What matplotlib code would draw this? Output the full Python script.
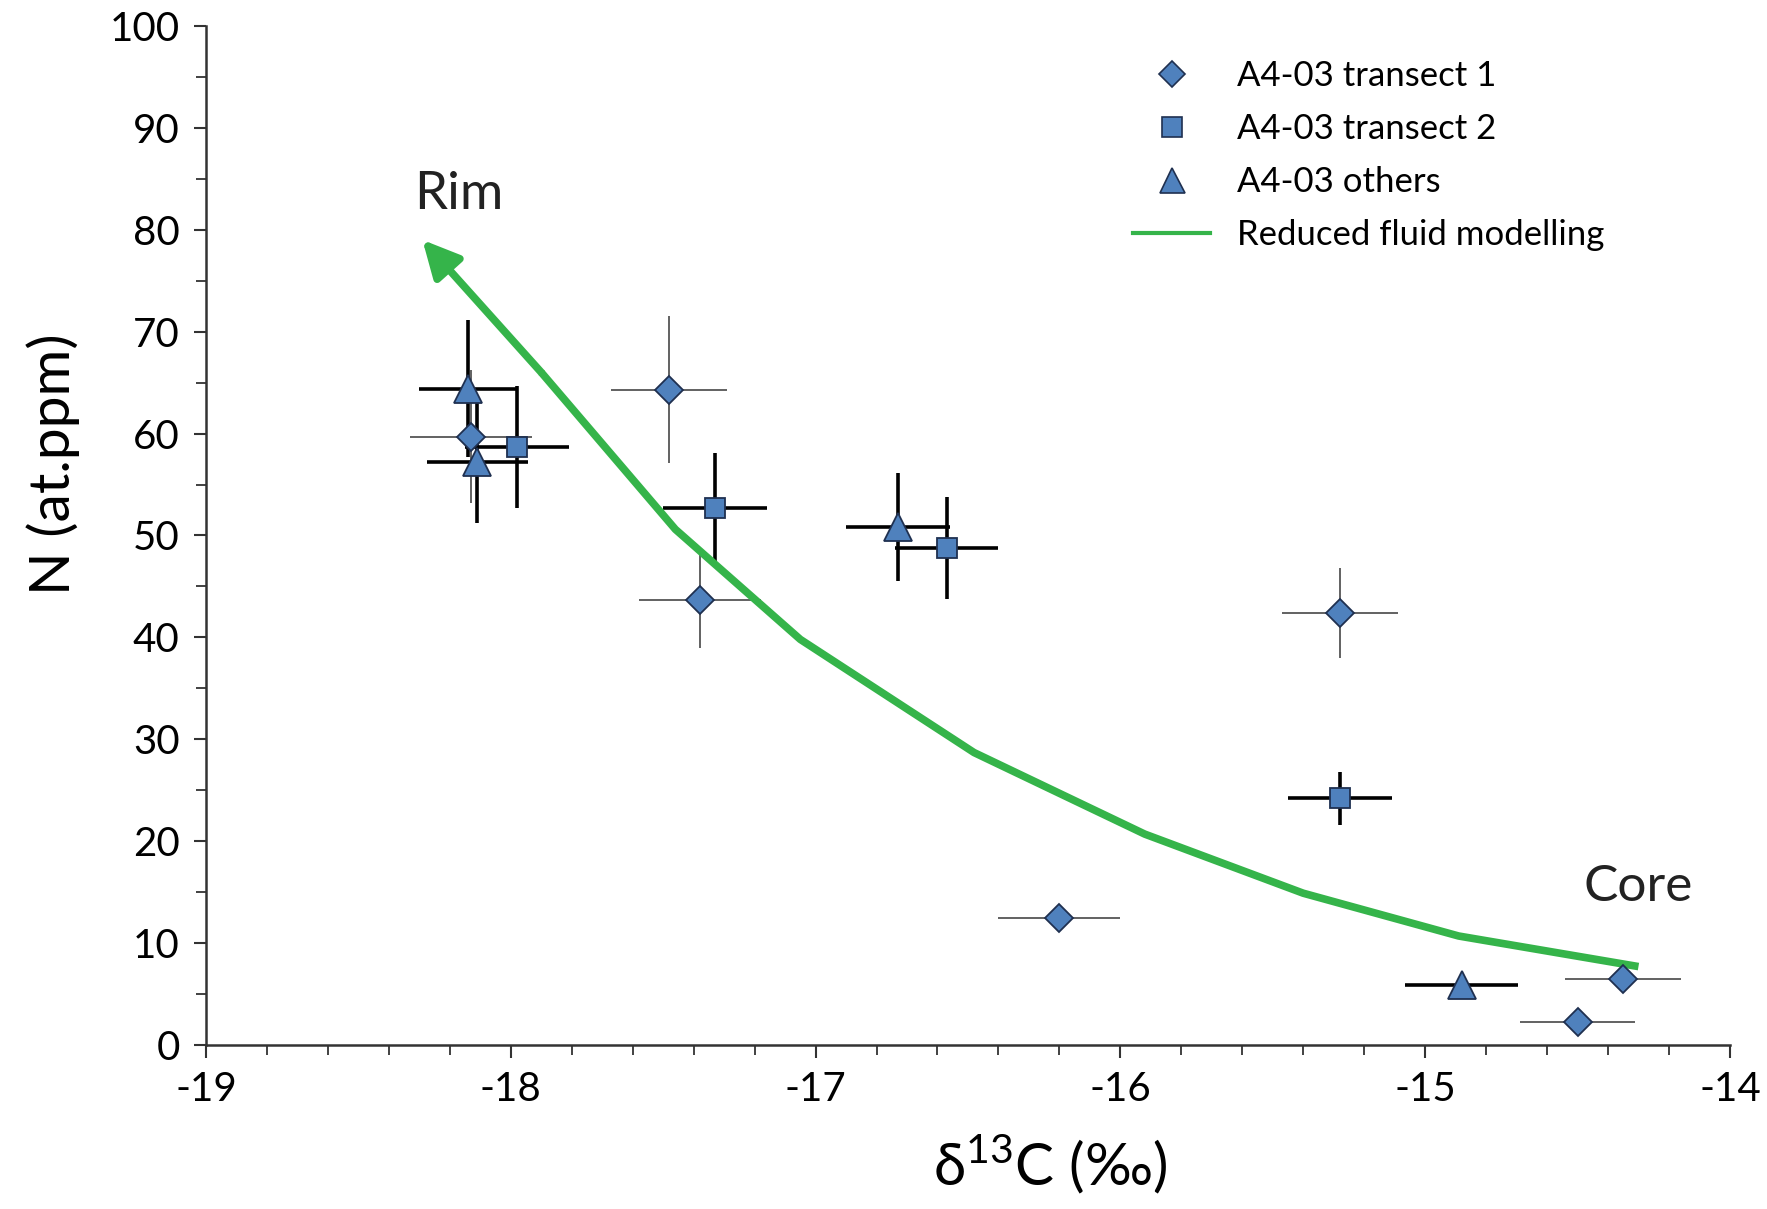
import numpy as np
import matplotlib.pyplot as plt
from matplotlib.lines import Line2D
from matplotlib.ticker import MultipleLocator

plt.rcParams['font.family'] = ['Lato', 'DejaVu Sans']
plt.rcParams['axes.unicode_minus'] = False
plt.rcParams['mathtext.fontset'] = 'custom'
plt.rcParams['mathtext.rm'] = 'Lato'

# A4-03 transect 1 (thin grey error bars)
t1_x = [-18.13, -17.48, -17.38, -15.28, -16.20, -14.35, -14.50]
t1_y = [59.7, 64.3, 43.7, 42.4, 12.5, 6.5, 2.3]
t1_xerr = [0.20, 0.19, 0.20, 0.19, 0.20, 0.19, 0.19]
t1_yerr = [6.5, 7.2, 4.7, 4.4, 0.0, 0.0, 0.0]

# A4-03 transect 2 (thick black error bars)
t2_x = [-17.98, -17.33, -16.57, -15.28]
t2_y = [58.7, 52.7, 48.8, 24.2]
t2_xerr = [0.17, 0.17, 0.17, 0.17]
t2_yerr = [6.0, 5.4, 5.0, 2.6]

# A4-03 others
ot_x = [-18.14, -18.11, -16.73, -14.88]
ot_y = [64.4, 57.2, 50.8, 5.9]
ot_xerr = [0.16, 0.165, 0.17, 0.185]
ot_yerr = [6.7, 6.0, 5.3, 0.0]

# reduced fluid modelling curve (core -> rim)
model_x = [-14.30, -14.89, -15.40, -15.92, -16.48, -17.05, -17.46, -17.90, -18.29]
model_y = [7.7, 10.7, 14.9, 20.7, 28.7, 39.8, 50.6, 66.0, 79.0]

blue = '#4f81bd'
edge = '#1f3050'
green = '#35b44a'
axis_col = '#333333'

fig = plt.figure(figsize=(17.67, 12.09), dpi=100)
ax = fig.add_axes([0.1166, 0.1356, 0.8624, 0.843])

ax.errorbar(t1_x, t1_y, xerr=t1_xerr, yerr=t1_yerr, fmt='none',
            ecolor='#555555', elinewidth=1.3, capsize=0, zorder=2)
ax.errorbar(t2_x, t2_y, xerr=t2_xerr, yerr=t2_yerr, fmt='none',
            ecolor='black', elinewidth=2.6, capsize=0, zorder=2)
ax.errorbar(ot_x, ot_y, xerr=ot_xerr, yerr=ot_yerr, fmt='none',
            ecolor='black', elinewidth=2.6, capsize=0, zorder=2)

ax.plot(model_x[:-1], model_y[:-1], color=green, lw=5.5,
        solid_capstyle='butt', zorder=3)
ax.annotate('', xy=(model_x[-1], model_y[-1]),
            xytext=(model_x[-2], model_y[-2]),
            arrowprops=dict(arrowstyle='-|>,head_length=2.2,head_width=1.1',
                            color=green, lw=5.5, shrinkA=0, shrinkB=0),
            zorder=3)

ax.plot(t1_x, t1_y, 'D', ms=14, mfc=blue, mec=edge, mew=1.3, ls='none', zorder=4)
ax.plot(t2_x, t2_y, 's', ms=15, mfc=blue, mec=edge, mew=1.3, ls='none', zorder=4)
ax.plot(ot_x, ot_y, '^', ms=20, mfc=blue, mec=edge, mew=1.3, ls='none', zorder=4)

ax.text(-18.17, 83.5, 'Rim', fontsize=38, ha='center', va='center', color='#222222')
ax.text(-14.30, 15.5, 'Core', fontsize=37, ha='center', va='center', color='#222222')

ax.set_xlim(-19, -14)
ax.set_ylim(0, 100)
ax.xaxis.set_major_locator(MultipleLocator(1))
ax.xaxis.set_minor_locator(MultipleLocator(0.2))
ax.yaxis.set_major_locator(MultipleLocator(10))
ax.yaxis.set_minor_locator(MultipleLocator(5))

for s in ['top', 'right']:
    ax.spines[s].set_visible(False)
for s in ['left', 'bottom']:
    ax.spines[s].set_linewidth(1.8)
    ax.spines[s].set_color(axis_col)

ax.tick_params(axis='both', which='major', length=9, width=1.5,
               color=axis_col, labelsize=29, pad=10)
ax.tick_params(axis='both', which='minor', length=7, width=1.3, color=axis_col)

ax.set_xlabel(r'δ$^{13}$C (‰)', fontsize=42)
ax.xaxis.set_label_coords(0.554, -0.085)
ax.set_ylabel('N (at.ppm)', fontsize=41)
ax.yaxis.set_label_coords(-0.083, 0.57)

handles = [
    Line2D([], [], marker='D', ms=13, mfc=blue, mec=edge, mew=1.2, ls='none'),
    Line2D([], [], marker='s', ms=14, mfc=blue, mec=edge, mew=1.2, ls='none'),
    Line2D([], [], marker='^', ms=18, mfc=blue, mec=edge, mew=1.2, ls='none'),
    Line2D([], [], color=green, lw=3),
]
labels = ['A4-03 transect 1', 'A4-03 transect 2', 'A4-03 others',
          'Reduced fluid modelling']
ax.legend(handles, labels, loc='upper left', bbox_to_anchor=(0.588, 0.997),
          frameon=False, fontsize=25, handlelength=2.2, handletextpad=0.8,
          labelspacing=0.6)

fig.savefig('out.png', dpi=100)
